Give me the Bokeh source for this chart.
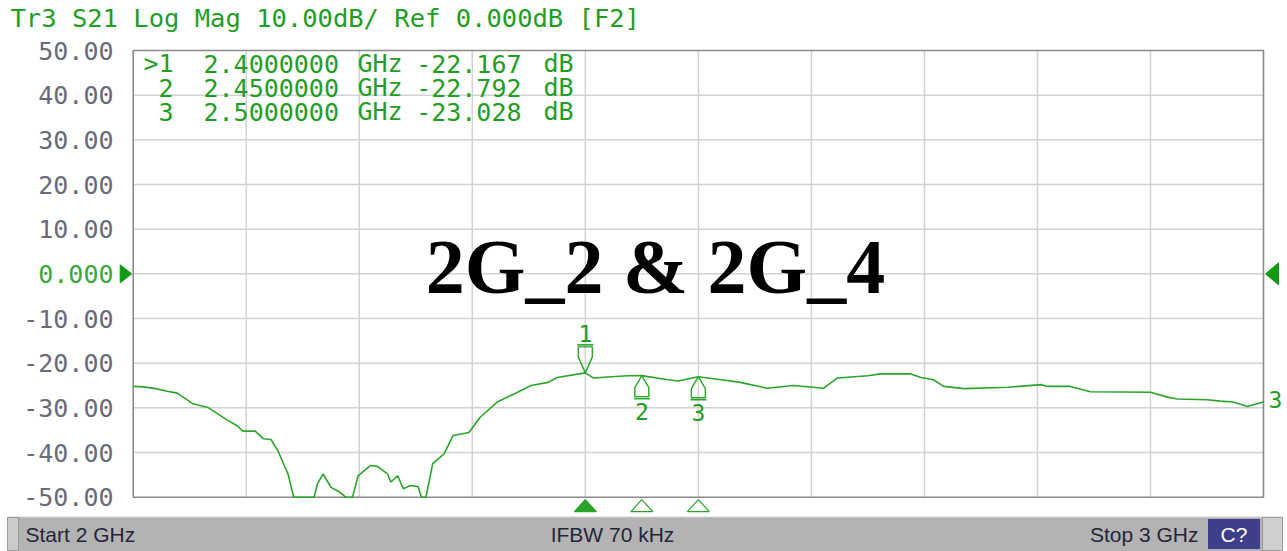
from bokeh.plotting import figure
from bokeh.models import Range1d, FixedTicker, PrintfTickFormatter, LinearAxis, LabelSet, ColumnDataSource
from bokeh.layouts import column
from bokeh.embed import file_html
from bokeh.resources import INLINE
from bokeh.core.properties import value

# ---------------- data ----------------
freq_ghz = [2.000, 2.009, 2.020, 2.030, 2.039, 2.053, 2.066, 2.083, 2.092, 2.097,
            2.108, 2.115, 2.122, 2.128, 2.137, 2.142, 2.160, 2.163, 2.168, 2.175,
            2.183, 2.188, 2.194, 2.199, 2.210, 2.216, 2.225, 2.228, 2.234, 2.239,
            2.245, 2.252, 2.255, 2.259, 2.265, 2.275, 2.283, 2.297, 2.307, 2.322,
            2.340, 2.352, 2.367, 2.375, 2.400, 2.407, 2.437, 2.450, 2.473, 2.482,
            2.500, 2.520, 2.537, 2.561, 2.584, 2.611, 2.623, 2.650, 2.661, 2.688,
            2.697, 2.708, 2.717, 2.735, 2.774, 2.803, 2.809, 2.829, 2.847, 2.900,
            2.915, 2.924, 2.950, 2.962, 2.973, 2.986, 2.991, 3.000]
s21_db = [-25.2, -25.3, -25.7, -26.3, -26.7, -29.1, -29.9, -32.7, -34.0, -35.2,
          -35.2, -36.9, -37.1, -39.6, -44.8, -50.0, -50.0, -47.0, -44.8, -47.8,
          -48.9, -50.0, -50.0, -45.2, -42.9, -43.1, -44.8, -46.6, -45.2, -48.1,
          -47.4, -47.6, -50.0, -50.0, -42.5, -40.3, -36.2, -35.5, -32.1, -28.7,
          -26.5, -25.0, -24.3, -23.2, -22.167, -23.3, -22.8, -22.792, -23.7, -24.0,
          -23.028, -23.7, -24.3, -25.6, -25.0, -25.6, -23.3, -22.8, -22.4, -22.4,
          -23.2, -23.7, -25.2, -25.7, -25.4, -24.8, -25.2, -25.2, -26.4, -26.5,
          -27.6, -28.0, -28.2, -28.5, -28.7, -29.7, -29.3, -28.7]

marker_ids = ["1", "2", "3"]
marker_freq = [2.40, 2.45, 2.50]
marker_db = [-22.167, -22.792, -23.028]
active_marker = 0

x_ticks = [2.0, 2.1, 2.2, 2.3, 2.4, 2.5, 2.6, 2.7, 2.8, 2.9, 3.0]
y_ticks = [-50, -40, -30, -20, -10, 0, 10, 20, 30, 40, 50]
ref_level = 0.0

title_text = "Tr3 S21 Log Mag 10.00dB/ Ref 0.000dB [F2]"
overlay_text = "2G_2 & 2G_4"
trace_label = "3"
status_left = "Start 2 GHz"
status_mid = "IFBW 70 kHz"
status_right = "Stop 3 GHz"
status_button = "C?"

# ---------------- style / layout ----------------
GREEN = "#1f9e24"
LIGHT_GREEN = "#3aa83a"
TRACE = "#2aa52a"
GRID = "#d2d2d2"
BOX = "#8a8a8a"
LABEL_GRAY = "#6a6a78"
MONO = "DejaVu Sans Mono"

W = 1287
H_MAIN = 516
H_BAR = 35
PX_X = 1130.3          # pixels per GHz
PX_Y = 4.467           # pixels per dB
BOX_LEFT_PX = 132.7    # where the first x tick sits, from the figure's left
BOX_TOP_PX = 50.0      # where the top y tick sits, from the figure's top

x_start = x_ticks[0] - BOX_LEFT_PX / PX_X
x_end = x_start + W / PX_X
y_end = y_ticks[-1] + BOX_TOP_PX / PX_Y
y_start = y_end - H_MAIN / PX_Y


def dx(px):
    return px / PX_X


def dy(px):
    return px / PX_Y


def px_x(px):   # figure-pixel -> data x
    return x_start + px / PX_X


def px_y(px):   # figure-pixel (from top) -> data y
    return y_end - px / PX_Y


p = figure(width=W, height=H_MAIN, output_backend="svg", toolbar_location=None,
           x_range=Range1d(x_start, x_end), y_range=Range1d(y_start, y_end),
           x_axis_location=None, y_axis_location=None, min_border=0)
p.outline_line_color = None
p.xgrid.visible = False
p.ygrid.visible = False
p.background_fill_color = "white"
p.border_fill_color = "white"

# y axes drawn next to the box (gray labels, and the reference level in green)
axis_x = px_x(116)
for ticks, color in [([t for t in y_ticks if t != ref_level], LABEL_GRAY), ([ref_level], LIGHT_GREEN)]:
    ax = LinearAxis(fixed_location=axis_x, ticker=FixedTicker(ticks=ticks),
                    formatter=PrintfTickFormatter(format="%.2f"))
    if ticks == [ref_level]:
        ax.major_label_overrides = {ref_level: "%.3f" % ref_level}
    ax.axis_line_color = None
    ax.major_tick_line_color = None
    ax.minor_tick_line_color = None
    ax.major_tick_out = 0
    ax.major_tick_in = 0
    ax.major_label_standoff = 3
    ax.major_label_text_font = MONO
    ax.major_label_text_font_size = "25px"
    ax.major_label_text_color = color
    p.add_layout(ax, "left")

# grid inside the box
inner_x = x_ticks[1:-1]
inner_y = y_ticks[1:-1]
p.segment(x0=inner_x, x1=inner_x, y0=[y_ticks[0]] * len(inner_x), y1=[y_ticks[-1]] * len(inner_x),
          line_color=GRID, line_width=1.5)
p.segment(x0=[x_ticks[0]] * len(inner_y), x1=[x_ticks[-1]] * len(inner_y), y0=inner_y, y1=inner_y,
          line_color=GRID, line_width=1.5)
# box
p.quad(left=[x_ticks[0]], right=[x_ticks[-1]], bottom=[y_ticks[0]], top=[y_ticks[-1]],
       fill_color=None, line_color=BOX, line_width=1.6)

# trace (clipped to the display floor)
p.line(freq_ghz, [max(v, y_ticks[0]) for v in s21_db], line_color=TRACE, line_width=1.6)

# markers on trace
act_shape = [(0, 0), (-7, 16), (-7, 26), (7, 26), (7, 16)]
pas_shape = [(0, 0), (-7, -12), (-7, -21), (7, -21), (7, -12)]
mxs, mys, bx0, bx1, by, nx, ny = [], [], [], [], [], [], []
for i, (f, v) in enumerate(zip(marker_freq, marker_db)):
    shp = act_shape if i == active_marker else pas_shape
    mxs.append([f + dx(a) for a, b in shp])
    mys.append([v + dy(b) for a, b in shp])
    bar = 28 if i == active_marker else -23
    bx0.append(f - dx(8)); bx1.append(f + dx(8)); by.append(v + dy(bar))
    nx.append(f); ny.append(v + dy(39 if i == active_marker else -36))
p.patches(mxs, mys, fill_color="white", fill_alpha=0.0, line_color=TRACE, line_width=1.4)
p.segment(x0=bx0, x1=bx1, y0=by, y1=by, line_color=TRACE, line_width=1.6)
p.text(x=nx, y=ny, text=marker_ids, text_font=value(MONO), text_font_size="23px",
       text_color=GREEN, text_align="center", text_baseline="middle")

# marker indicators below the box
txs, tys, tfill = [], [], []
for i, f in enumerate(marker_freq):
    txs.append([f - dx(11), f + dx(11), f])
    base = y_ticks[0] - dy(14.5)
    tys.append([base, base, y_ticks[0] - dy(2.5)])
    tfill.append(TRACE if i == active_marker else "white")
p.patches(txs, tys, fill_color=tfill, line_color=TRACE, line_width=1.2)

# reference-level arrows
p.patches([[x_ticks[0] - dx(13), x_ticks[0] - dx(13), x_ticks[0] - dx(1.5)],
           [x_ticks[-1] + dx(15), x_ticks[-1] + dx(15), x_ticks[-1] + dx(2)]],
          [[ref_level + dy(9), ref_level - dy(9), ref_level],
           [ref_level + dy(11), ref_level - dy(11), ref_level]],
          fill_color="#119a11", line_color="#119a11")

# trace number at end of trace
p.text(x=[freq_ghz[-1]], y=[s21_db[-1]], text=[trace_label], x_offset=5, y_offset=-3,
       text_font=value(MONO), text_font_size="23px", text_color=GREEN,
       text_align="left", text_baseline="middle")

# title
p.text(x=[px_x(10)], y=[px_y(17.5)], text=[title_text], text_font=value(MONO),
       text_font_size="25.5px", text_color=GREEN, text_align="left", text_baseline="middle")

# marker table
rows_y = [px_y(63 + 24 * i) for i in range(len(marker_ids))]
tab = ColumnDataSource(dict(
    y=rows_y,
    mid=[(">" if i == active_marker else "") + m for i, m in enumerate(marker_ids)],
    f=["%.7f" % f for f in marker_freq],
    u=["GHz"] * len(marker_ids),
    v=["%.3f" % v for v in marker_db],
    d=["dB"] * len(marker_ids),
))
for col, xpos, align in [("mid", 173, "right"), ("f", 203, "left"), ("u", 357, "left"),
                         ("v", 521, "right"), ("d", 543, "left")]:
    p.add_layout(LabelSet(x=px_x(xpos), y="y", text=col, source=tab,
                          text_font=value(MONO), text_font_size="25px", text_color=GREEN,
                          text_align=align, text_baseline="middle"))

# overlay annotation
p.text(x=[px_x(655)], y=[px_y(265.5)], text=[overlay_text],
       text_font=value("Liberation Serif"), text_font_style="bold", text_font_size="78px",
       text_color="black", text_align="center", text_baseline="middle")

# ---------------- status bar ----------------
s = figure(width=W, height=H_BAR, output_backend="svg", toolbar_location=None,
           x_range=Range1d(0, W), y_range=Range1d(H_BAR, 0),
           x_axis_location=None, y_axis_location=None, min_border=0)
s.outline_line_color = None
s.xgrid.visible = False
s.ygrid.visible = False
s.background_fill_color = "white"
s.border_fill_color = "white"
s.quad(left=[7], right=[1282], top=[0], bottom=[H_BAR], fill_color="#b3b3b3", line_color=None)
s.segment(x0=[7], x1=[1282], y0=[0.5], y1=[0.5], line_color="#d8d8d8", line_width=1)
s.quad(left=[7], right=[18], top=[1], bottom=[H_BAR - 1], fill_color="#cbcbcb", line_color="#9a9a9a")
s.quad(left=[1208], right=[1259], top=[3], bottom=[32], fill_color="#3f3e8b", line_color="#3f3e8b")
s.quad(left=[1262], right=[1282], top=[1], bottom=[H_BAR - 1], fill_color="#cfcfcf", line_color="#9a9a9a")
s.text(x=[25, 612, 1198], y=[18, 18, 18], text=[status_left, status_mid, status_right],
       text_align=["left", "center", "right"], text_baseline="middle",
       text_font=value("Liberation Sans"), text_font_size="21px", text_color="#25253a")
s.text(x=[1233.5], y=[18], text=[status_button], text_align="center", text_baseline="middle",
       text_font=value("Liberation Sans"), text_font_size="21px", text_color="white")

layout = column(p, s, spacing=0)
open("out.html", "w").write(file_html(layout, INLINE))
